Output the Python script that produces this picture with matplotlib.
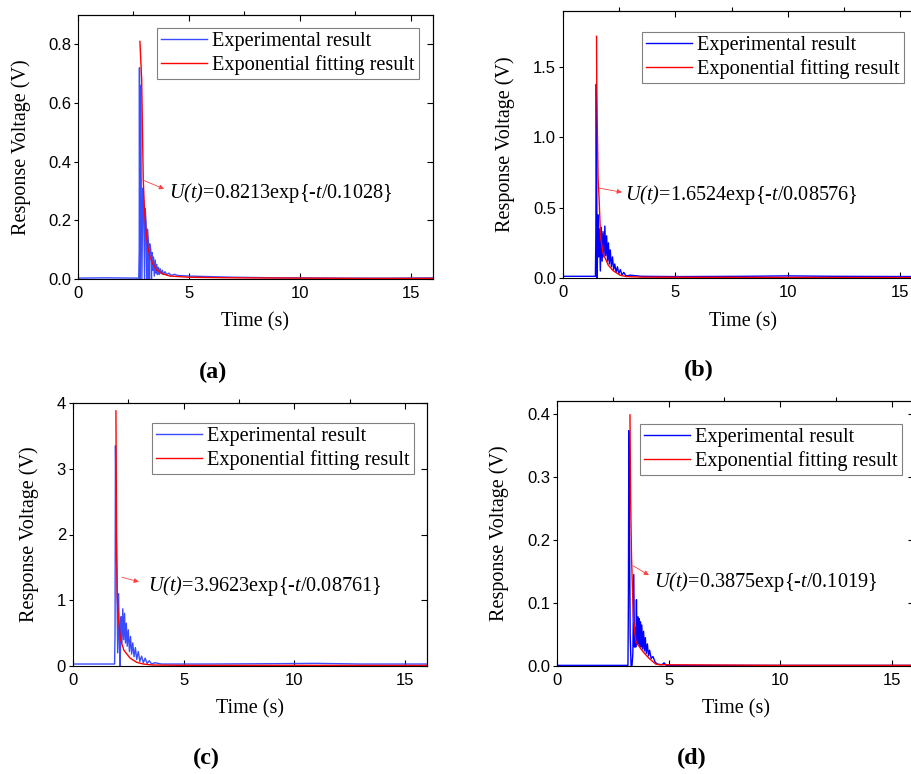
import numpy as np
import matplotlib.pyplot as plt
from matplotlib.ticker import MultipleLocator, FixedLocator

plt.rcParams['font.family'] = ['Liberation Serif', 'DejaVu Serif']
plt.rcParams['mathtext.fontset'] = 'custom'
plt.rcParams['mathtext.it'] = 'Liberation Serif:italic'
plt.rcParams['mathtext.rm'] = 'Liberation Serif:italic'

W, H = 912, 774

# ---- (a) ----
a_exp_t = [0, 1.2, 2.74, 2.76, 2.77, 2.79, 2.82, 2.85, 2.88, 2.92, 2.96, 3.00, 3.03, 3.07, 3.10,
           3.13, 3.17, 3.20, 3.23, 3.28, 3.31, 3.34, 3.37, 3.40, 3.44, 3.48, 3.51, 3.55, 3.58,
           3.62, 3.66, 3.70, 3.75, 3.80, 3.85, 3.92, 4.0, 4.1, 4.2, 4.35, 4.5, 5.0, 5.5, 6.0,
           7.0, 8.0, 9.0, 10.0, 12.0, 14.0, 16.0]
a_exp_v = [0.003, 0.004, 0.003, 0.10, 0.72, 0.0, 0.66, 0.30, 0.0, 0.31, 0.25, 0.0, 0.24, 0.19, 0.0,
           0.17, 0.13, 0.0, 0.12, 0.10, 0.0, 0.09, 0.03, 0.075, 0.01, 0.065, 0.02, 0.05, 0.015,
           0.04, 0.015, 0.035, 0.018, 0.03, 0.015, 0.025, 0.015, 0.02, 0.012, 0.016, 0.012, 0.01,
           0.009, 0.008, 0.006, 0.005, 0.004, 0.004, 0.003, 0.003, 0.004]
a_fit_t = [2.79, 2.87, 2.94, 3.00, 3.06, 3.15, 3.24, 3.40, 3.55, 3.80, 4.15, 5.0, 7.0, 10.0, 13.0, 16.0]
a_fit_v = [0.81, 0.68, 0.34, 0.23, 0.167, 0.11, 0.076, 0.048, 0.031, 0.018, 0.010, 0.006, 0.004, 0.003, 0.002, 0.002]

# ---- (b) ----
b_exp_t = [0, 1.44, 1.46, 1.48, 1.50, 1.52, 1.55, 1.58, 1.62, 1.66, 1.70, 1.74, 1.78, 1.82, 1.86,
           1.90, 1.94, 1.98, 2.02, 2.06, 2.10, 2.15, 2.20, 2.25, 2.30, 2.36, 2.42, 2.48, 2.55,
           2.62, 2.70, 2.80, 3.0, 3.5, 5.0, 8.0, 10.0, 12.0, 16.0]
b_exp_v = [0.012, 0.012, 0.3, 1.38, 0.6, 0.0, 0.45, 0.15, 0.35, 0.05, 0.36, 0.12, 0.33, 0.15, 0.37,
           0.16, 0.30, 0.12, 0.25, 0.10, 0.20, 0.08, 0.15, 0.06, 0.10, 0.04, 0.08, 0.03, 0.06,
           0.02, 0.04, 0.015, 0.02, 0.012, 0.01, 0.012, 0.015, 0.012, 0.01]
b_fit_t = [1.49, 1.50, 1.52, 1.56, 1.60, 1.67, 1.78, 2.01, 2.23, 2.53, 2.83, 3.5, 6.0, 10.0, 16.0]
b_fit_v = [1.72, 1.40, 1.12, 0.70, 0.58, 0.29, 0.176, 0.092, 0.052, 0.020, 0.010, 0.006, 0.005, 0.004, 0.003]

# ---- (c) ----
c_exp_t = [0, 1.88, 1.90, 1.92, 1.95, 1.98, 2.02, 2.06, 2.10, 2.13, 2.17, 2.21, 2.25, 2.29, 2.33,
           2.37, 2.41, 2.45, 2.50, 2.55, 2.60, 2.65, 2.70, 2.76, 2.82, 2.88, 2.95, 3.02, 3.10,
           3.18, 3.26, 3.35, 3.45, 3.55, 3.70, 4.0, 6.0, 9.0, 11.0, 13.0, 16.0]
c_exp_v = [0.03, 0.03, 0.5, 3.35, 2.2, 1.4, 0.2, 1.1, 0.3, 0.0, 0.75, 0.35, 0.87, 0.40, 0.80,
           0.35, 0.65, 0.30, 0.55, 0.22, 0.45, 0.18, 0.35, 0.14, 0.28, 0.10, 0.22, 0.07, 0.15,
           0.05, 0.12, 0.04, 0.08, 0.03, 0.05, 0.03, 0.03, 0.035, 0.04, 0.03, 0.03]
c_fit_t = [1.94, 1.97, 2.00, 2.06, 2.15, 2.30, 2.58, 2.88, 3.18, 3.60, 5.0, 10.0, 16.0]
c_fit_v = [3.88, 1.87, 1.05, 0.70, 0.40, 0.24, 0.12, 0.056, 0.030, 0.015, 0.010, 0.010, 0.008]

# ---- (d) ----
d_exp_t = [0, 3.18, 3.20, 3.22, 3.25, 3.28, 3.32, 3.36, 3.40, 3.44, 3.47, 3.50, 3.53, 3.56, 3.59,
           3.62, 3.65, 3.68, 3.71, 3.74, 3.77, 3.80, 3.84, 3.88, 3.92, 3.96, 4.00, 4.05, 4.10,
           4.15, 4.22, 4.30, 4.40, 4.50, 4.70, 4.80, 4.90, 16.0]
d_exp_v = [0.001, 0.001, 0.1, 0.373, 0.20, 0.05, 0.0, 0.0, 0.02, 0.145, 0.03, 0.06, 0.03, 0.105, 0.035,
           0.078, 0.035, 0.075, 0.032, 0.07, 0.03, 0.065, 0.027, 0.055, 0.024, 0.045, 0.02, 0.035, 0.016,
           0.025, 0.012, 0.015, 0.006, 0.003, 0.002, 0.005, 0.001, 0.001]
d_fit_t = [3.27, 3.30, 3.34, 3.42, 3.49, 3.54, 3.64, 3.87, 4.13, 4.43, 4.60, 10.0, 16.0]
d_fit_v = [0.398, 0.263, 0.173, 0.078, 0.052, 0.038, 0.033, 0.022, 0.012, 0.003, 0.002, 0.001, 0.001]

panels = [
    dict(tag='(a)', box=(78, 433, 15, 279), ylim=0.9, ystep=0.2, fmt='%.1f', blue='#3a4cff',
         data=(a_exp_t, a_exp_v, a_fit_t, a_fit_v),
         eq=r'$U(t)$=0.8213exp{-$t$/0.1028}',
         tail=(2.93, 0.337), head=(3.88, 0.307), txt=(4.1, 0.293),
         leg=(157, 28), lab=(213, 372), ylx=-0.16),
    dict(tag='(b)', box=(563, 923, 11, 278), ylim=1.9, ystep=0.5, fmt='%.1f', blue='#0000ff',
         data=(b_exp_t, b_exp_v, b_fit_t, b_fit_v),
         eq=r'$U(t)$=1.6524exp{-$t$/0.08576}',
         tail=(1.6, 0.64), head=(2.62, 0.61), txt=(2.76, 0.59),
         leg=(642, 32), lab=(699, 370), ylx=-0.161),
    dict(tag='(c)', box=(73, 427, 403, 666), ylim=4.0, ystep=1.0, fmt='%d', blue='#3a4cff',
         data=(c_exp_t, c_exp_v, c_fit_t, c_fit_v),
         eq=r'$U(t)$=3.9623exp{-$t$/0.08761}',
         tail=(2.21, 1.35), head=(2.98, 1.28), txt=(3.39, 1.22),
         leg=(152, 423), lab=(206, 758), ylx=-0.124),
    dict(tag='(d)', box=(557, 914, 401, 666), ylim=0.42, ystep=0.1, fmt='%.1f', blue='#0000ff',
         data=(d_exp_t, d_exp_v, d_fit_t, d_fit_v),
         eq=r'$U(t)$=0.3875exp{-$t$/0.1019}',
         tail=(3.40, 0.159), head=(4.12, 0.144), txt=(4.34, 0.133),
         leg=(640, 424), lab=(692, 758), ylx=-0.162),
]

fig = plt.figure(figsize=(W / 100, H / 100), dpi=100)

for p in panels:
    l, r, t, b = p['box']
    ax = fig.add_axes([l / W, 1 - b / H, (r - l) / W, (b - t) / H])
    et, ev, ft, fv = p['data']
    ax.plot(et, ev, color=p['blue'], lw=1.0, label='Experimental result')
    ax.plot(ft, fv, color='#ff0000', lw=1.0, label='Exponential fitting result')
    ax.set_xlim(0, 16)
    ax.set_ylim(0, p['ylim'])
    ax.xaxis.set_major_locator(MultipleLocator(5))
    ax.yaxis.set_major_locator(MultipleLocator(p['ystep']))
    ax.yaxis.set_major_formatter(plt.FormatStrFormatter(p['fmt']))
    ax.tick_params(axis='x', direction='in', length=4, width=0.8, pad=5, labelsize=12)
    ax.tick_params(axis='y', direction='out', length=3, width=0.8, pad=2, labelsize=12)
    for lb in ax.get_xticklabels() + ax.get_yticklabels():
        lb.set_fontfamily('Liberation Sans')
    for s in ax.spines.values():
        s.set_linewidth(0.8)

    top = ax.secondary_xaxis('top')
    top.xaxis.set_major_locator(MultipleLocator(5))
    top.xaxis.set_minor_locator(FixedLocator([2.5, 7.5, 12.5]))
    top.tick_params(which='major', direction='in', length=4, width=0.8, labeltop=False)
    top.tick_params(which='minor', direction='out', length=3, width=0.8)
    right = ax.secondary_yaxis('right')
    right.yaxis.set_major_locator(MultipleLocator(p['ystep']))
    right.tick_params(direction='in', length=4, width=0.8, labelright=False)

    ax.set_xlabel('Time (s)', fontsize=14.5, va='center')
    ax.set_ylabel('Response Voltage (V)', fontsize=14.5, va='center')
    ax.xaxis.set_label_coords(0.5, -0.163)
    ax.yaxis.set_label_coords(p['ylx'], 0.5)

    ax.annotate('', xy=p['head'], xytext=p['tail'],
                arrowprops=dict(arrowstyle='-|>', color='#ff4040', lw=0.6,
                                mutation_scale=7, shrinkA=0, shrinkB=0))
    ax.text(p['txt'][0], p['txt'][1], p['eq'], fontsize=14.6, va='center', ha='left')

    lx, ly = p['leg']
    leg = ax.legend(loc='upper left', bbox_to_anchor=(lx / W, 1 - ly / H),
                    bbox_transform=fig.transFigure, borderaxespad=0,
                    fontsize=14.6, fancybox=False, framealpha=1, edgecolor='#808080',
                    handlelength=2.3, handletextpad=0.25, borderpad=0.18, labelspacing=0.22)
    leg.get_frame().set_linewidth(0.8)

    fig.text(p['lab'][0] / W, 1 - p['lab'][1] / H, p['tag'], fontsize=17.5,
             fontweight='bold', ha='center', va='center')

fig.savefig('out.png', dpi=100)
